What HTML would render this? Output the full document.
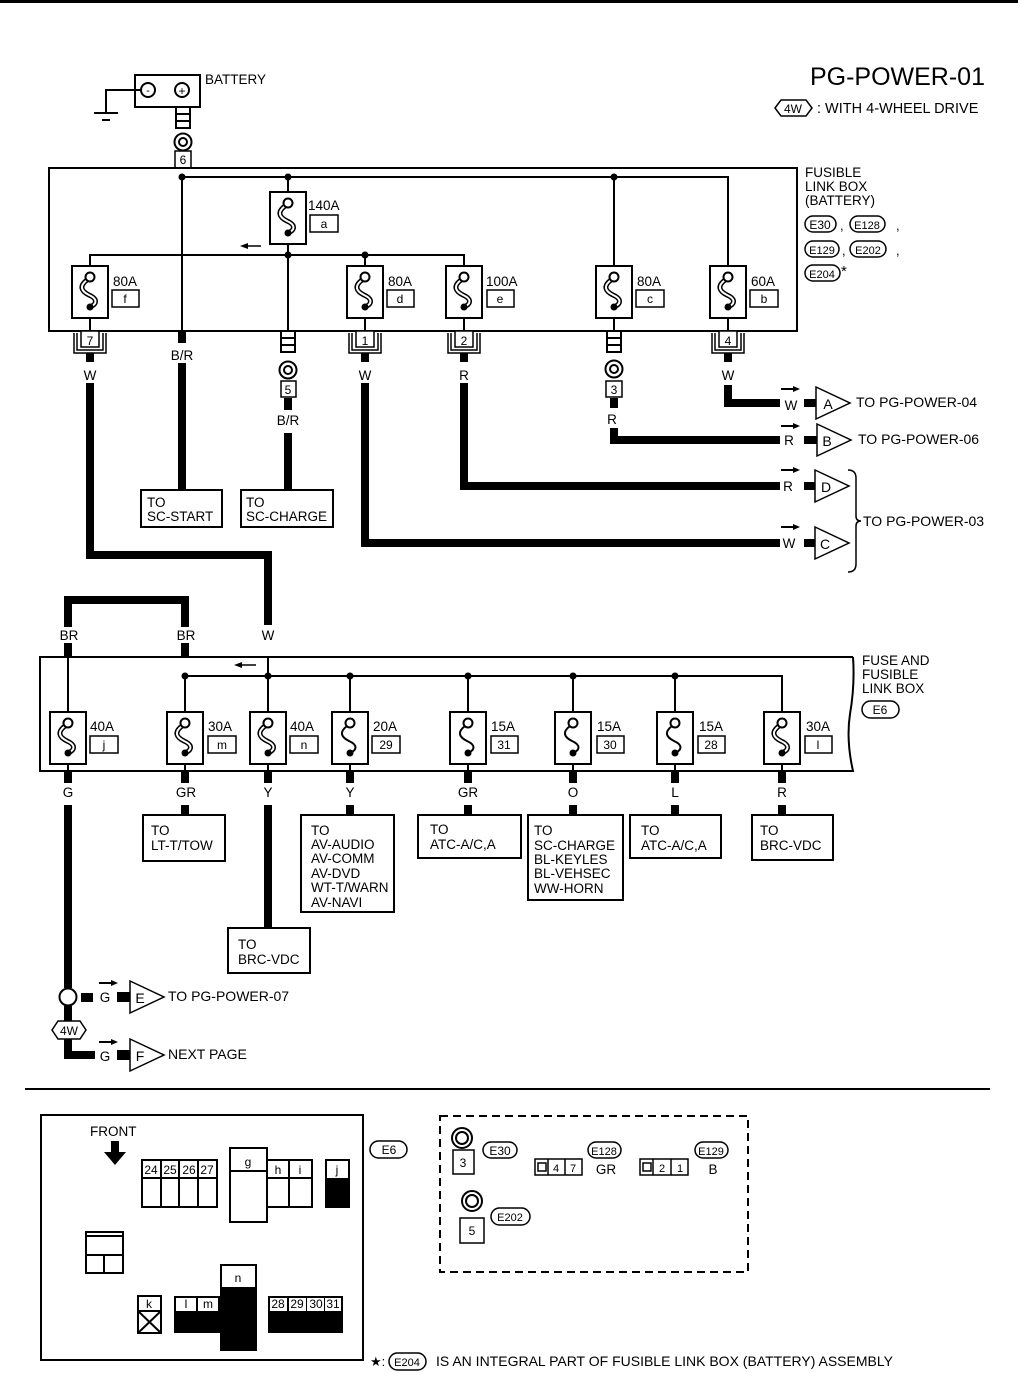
<!DOCTYPE html>
<html><head><meta charset="utf-8"><style>
html,body{margin:0;padding:0;background:#fff}
svg{display:block}
text{font-family:"Liberation Sans",sans-serif;fill:#000}
</style></head><body>
<svg width="1018" height="1373" viewBox="0 0 1018 1373" xmlns="http://www.w3.org/2000/svg">
<defs>
<g id="fz">
<rect x="-18" y="0" width="36" height="52" fill="#fff" stroke="#000" stroke-width="2"/>
<path d="M -3 14 C -11 20 -9 25 -1 29 C 8 33 7 38 0 41" fill="none" stroke="#000" stroke-width="5"/>
<path d="M -3 14 C -11 20 -9 25 -1 29 C 8 33 7 38 0 41" fill="none" stroke="#fff" stroke-width="2"/>
<circle cx="0" cy="11" r="4.5" fill="#fff" stroke="#000" stroke-width="2"/>
<circle cx="0" cy="41" r="3.5" fill="#000"/>
</g>
<g id="fs">
<rect x="-18" y="0" width="36" height="52" fill="#fff" stroke="#000" stroke-width="2"/>
<path d="M -3 14 C -11 20 -9 25 -1 29 C 8 33 7 38 0 41" fill="none" stroke="#000" stroke-width="2"/>
<circle cx="0" cy="11" r="4.5" fill="#fff" stroke="#000" stroke-width="2"/>
<circle cx="0" cy="41" r="3.5" fill="#000"/>
</g>
<g id="br">
<path d="M -16 2 V 22 H 16 V 2 M -13 2 V 19 H 13 V 2" fill="none" stroke="#000" stroke-width="1.5"/>
<rect x="-9" y="0" width="18" height="16" fill="#fff" stroke="#000" stroke-width="1.5"/>
</g>
<g id="c3">
<rect x="-7" y="0" width="14" height="21" fill="#fff" stroke="#000" stroke-width="2"/>
<line x1="-7" y1="7" x2="7" y2="7" stroke="#000" stroke-width="2"/>
<line x1="-7" y1="14" x2="7" y2="14" stroke="#000" stroke-width="2"/>
</g>
<g id="ring">
<circle cx="0" cy="0" r="8.5" fill="#fff" stroke="#000" stroke-width="2"/>
<circle cx="0" cy="0" r="4" fill="none" stroke="#000" stroke-width="2"/>
</g>
<g id="tri"><path d="M 0 -16 L 34 0 L 0 16 Z" fill="#fff" stroke="#000" stroke-width="1.5"/></g>
<g id="arr"><line x1="0" y1="0" x2="14" y2="0" stroke="#000" stroke-width="2"/><path d="M 12 -3 L 19 0 L 12 3 Z"/></g>
</defs>
<rect x="0" y="0" width="1018" height="3" fill="#000"/>

<!-- title -->
<text x="985" y="85" font-size="25" text-anchor="end">PG-POWER-01</text>
<path d="M 775 108 L 781 100 H 806 L 812 108 L 806 116 H 781 Z" fill="#fff" stroke="#000" stroke-width="1.5"/>
<text x="793" y="113" font-size="12" text-anchor="middle">4W</text>
<text x="817" y="113" font-size="14.5">: WITH 4-WHEEL DRIVE</text>

<!-- battery -->
<rect x="135" y="75" width="65" height="32" fill="none" stroke="#000" stroke-width="2"/>
<circle cx="148" cy="90" r="7" fill="none" stroke="#000" stroke-width="2"/>
<text x="148" y="94" font-size="11" text-anchor="middle">-</text>
<circle cx="182" cy="90" r="7" fill="none" stroke="#000" stroke-width="2"/>
<text x="182" y="95" font-size="12" text-anchor="middle">+</text>
<path d="M 141 90 H 106 V 112" fill="none" stroke="#000" stroke-width="2"/>
<line x1="94" y1="113" x2="118" y2="113" stroke="#000" stroke-width="2"/>
<line x1="102" y1="120" x2="110" y2="120" stroke="#000" stroke-width="2"/>
<text x="205" y="84" font-size="13.5">BATTERY</text>
<use href="#c3" x="183" y="107"/>
<use href="#ring" x="183" y="142"/>
<rect x="175" y="151" width="16" height="17" fill="#fff" stroke="#000" stroke-width="1.5"/>
<text x="183" y="164" font-size="12" text-anchor="middle">6</text>

<!-- fusible link box -->
<rect x="49" y="168" width="748" height="163" fill="none" stroke="#000" stroke-width="2"/>
<path d="M 182 177 H 728 V 266" fill="none" stroke="#000" stroke-width="2"/>
<line x1="182" y1="177" x2="182" y2="331" stroke="#000" stroke-width="2"/>
<line x1="288" y1="177" x2="288" y2="331" stroke="#000" stroke-width="2"/>
<line x1="614" y1="177" x2="614" y2="331" stroke="#000" stroke-width="2"/>
<path d="M 90 266 V 255 H 464 V 266" fill="none" stroke="#000" stroke-width="2"/>
<line x1="365" y1="255" x2="365" y2="266" stroke="#000" stroke-width="2"/>
<line x1="90" y1="318" x2="90" y2="331" stroke="#000" stroke-width="2"/>
<line x1="365" y1="318" x2="365" y2="331" stroke="#000" stroke-width="2"/>
<line x1="464" y1="318" x2="464" y2="331" stroke="#000" stroke-width="2"/>
<line x1="728" y1="318" x2="728" y2="331" stroke="#000" stroke-width="2"/>
<circle cx="182" cy="177" r="3.5"/><circle cx="288" cy="177" r="3.5"/><circle cx="614" cy="177" r="3.5"/>
<circle cx="288" cy="255" r="3.5"/><circle cx="365" cy="255" r="3.5"/>
<line x1="245" y1="246" x2="261" y2="246" stroke="#000" stroke-width="1.5"/><path d="M 240 246 L 248 243 L 248 249 Z"/>
<use href="#fz" x="288" y="192"/>
<text x="308" y="210" font-size="13.5">140A</text>
<rect x="310" y="215" width="28" height="17" fill="none" stroke="#000" stroke-width="1.5"/><text x="324" y="228" font-size="12" text-anchor="middle">a</text>
<use href="#fz" x="90" y="266"/>
<text x="113" y="286" font-size="13.5">80A</text>
<rect x="112" y="290" width="27" height="17" fill="none" stroke="#000" stroke-width="1.5"/><text x="125" y="303" font-size="12" text-anchor="middle">f</text>
<use href="#fz" x="365" y="266"/>
<text x="388" y="286" font-size="13.5">80A</text>
<rect x="387" y="290" width="27" height="17" fill="none" stroke="#000" stroke-width="1.5"/><text x="400" y="303" font-size="12" text-anchor="middle">d</text>
<use href="#fz" x="464" y="266"/>
<text x="486" y="286" font-size="13.5">100A</text>
<rect x="487" y="290" width="27" height="17" fill="none" stroke="#000" stroke-width="1.5"/><text x="500" y="303" font-size="12" text-anchor="middle">e</text>
<use href="#fz" x="614" y="266"/>
<text x="637" y="286" font-size="13.5">80A</text>
<rect x="636" y="290" width="28" height="17" fill="none" stroke="#000" stroke-width="1.5"/><text x="650" y="303" font-size="12" text-anchor="middle">c</text>
<use href="#fz" x="728" y="266"/>
<text x="751" y="286" font-size="13.5">60A</text>
<rect x="750" y="290" width="28" height="17" fill="none" stroke="#000" stroke-width="1.5"/><text x="764" y="303" font-size="12" text-anchor="middle">b</text>

<text x="805" y="177" font-size="13.5">FUSIBLE</text>
<text x="805" y="191" font-size="13.5">LINK BOX</text>
<text x="805" y="205" font-size="13.5">(BATTERY)</text>
<rect x="805" y="216" width="31" height="16" rx="8" fill="none" stroke="#000" stroke-width="1.5"/><text x="820" y="229" font-size="12" text-anchor="middle">E30</text>
<text x="840" y="230" font-size="13">,</text>
<rect x="850" y="216" width="35" height="16" rx="8" fill="none" stroke="#000" stroke-width="1.5"/><text x="867" y="229" font-size="11" text-anchor="middle">E128</text>
<text x="896" y="230" font-size="13">,</text>
<rect x="805" y="241" width="34" height="16" rx="8" fill="none" stroke="#000" stroke-width="1.5"/><text x="822" y="254" font-size="11" text-anchor="middle">E129</text>
<text x="842" y="255" font-size="13">,</text>
<rect x="850" y="241" width="36" height="16" rx="8" fill="none" stroke="#000" stroke-width="1.5"/><text x="868" y="254" font-size="11" text-anchor="middle">E202</text>
<text x="896" y="255" font-size="13">,</text>
<rect x="805" y="265" width="35" height="16" rx="8" fill="none" stroke="#000" stroke-width="1.5"/><text x="822" y="278" font-size="11" text-anchor="middle">E204</text>
<text x="841" y="276" font-size="15">*</text>

<!-- bottom connectors of upper box -->
<use href="#br" x="90" y="331"/><text x="90" y="345" font-size="12" text-anchor="middle">7</text>
<use href="#br" x="365" y="331"/><text x="365" y="345" font-size="12" text-anchor="middle">1</text>
<use href="#br" x="464" y="331"/><text x="464" y="345" font-size="12" text-anchor="middle">2</text>
<use href="#br" x="728" y="331"/><text x="728" y="345" font-size="12" text-anchor="middle">4</text>
<rect x="178" y="331" width="8" height="12" fill="#000"/>
<use href="#c3" x="288" y="331"/>
<use href="#c3" x="614" y="331"/>

<g stroke="#000" stroke-width="8" fill="none">
<line x1="90" y1="353" x2="90" y2="362"/>
<line x1="365" y1="353" x2="365" y2="362"/>
<line x1="464" y1="353" x2="464" y2="362"/>
<line x1="728" y1="353" x2="728" y2="362"/>
<path d="M 90 383 V 555 H 268 V 625"/>
<line x1="182" y1="363" x2="182" y2="490"/>
<line x1="288" y1="398" x2="288" y2="410"/>
<line x1="288" y1="433" x2="288" y2="490"/>
<path d="M 365 383 V 543 H 780"/>
<path d="M 464 383 V 486 H 780"/>
<line x1="614" y1="398" x2="614" y2="408"/>
<path d="M 614 428 V 440 H 780"/>
<path d="M 728 385 V 403 H 782"/>
<line x1="803" y1="403" x2="816" y2="403"/>
<line x1="803" y1="440" x2="817" y2="440"/>
<line x1="803" y1="486" x2="815" y2="486"/>
<line x1="803" y1="543" x2="815" y2="543"/>
</g>
<rect x="780" y="393" width="24" height="18" fill="#fff"/>
<rect x="780" y="430" width="24" height="18" fill="#fff"/>
<rect x="780" y="476" width="24" height="18" fill="#fff"/>
<rect x="780" y="533" width="24" height="18" fill="#fff"/>
<text x="90" y="380" font-size="13.5" text-anchor="middle">W</text>
<text x="182" y="360" font-size="13.5" text-anchor="middle">B/R</text>
<use href="#ring" x="288" y="370"/>
<rect x="281" y="381" width="15" height="16" fill="#fff" stroke="#000" stroke-width="1.5"/><text x="288" y="394" font-size="12" text-anchor="middle">5</text>
<text x="288" y="425" font-size="13.5" text-anchor="middle">B/R</text>
<text x="365" y="380" font-size="13.5" text-anchor="middle">W</text>
<text x="464" y="380" font-size="13.5" text-anchor="middle">R</text>
<use href="#ring" x="614" y="369"/>
<rect x="606" y="381" width="16" height="16" fill="#fff" stroke="#000" stroke-width="1.5"/><text x="614" y="394" font-size="12" text-anchor="middle">3</text>
<text x="612" y="424" font-size="13.5" text-anchor="middle">R</text>
<text x="728" y="380" font-size="13.5" text-anchor="middle">W</text>

<rect x="141" y="490" width="81" height="37" fill="none" stroke="#000" stroke-width="2"/>
<text x="147" y="507" font-size="13.5">TO</text><text x="147" y="521" font-size="13.5">SC-START</text>
<rect x="241" y="490" width="92" height="37" fill="none" stroke="#000" stroke-width="2"/>
<text x="246" y="507" font-size="13.5">TO</text><text x="246" y="521" font-size="13.5">SC-CHARGE</text>

<text x="791" y="410" font-size="13.5" text-anchor="middle">W</text>
<text x="789" y="445" font-size="13.5" text-anchor="middle">R</text>
<text x="788" y="491" font-size="13.5" text-anchor="middle">R</text>
<text x="789" y="548" font-size="13.5" text-anchor="middle">W</text>
<use href="#arr" x="781" y="389"/><use href="#arr" x="781" y="426"/><use href="#arr" x="781" y="470"/><use href="#arr" x="781" y="527"/>
<use href="#tri" x="816" y="403"/><text x="828" y="409" font-size="14" text-anchor="middle">A</text>
<use href="#tri" x="817" y="440"/><text x="827" y="446" font-size="14" text-anchor="middle">B</text>
<use href="#tri" x="815" y="486"/><text x="826" y="492" font-size="14" text-anchor="middle">D</text>
<use href="#tri" x="815" y="543"/><text x="825" y="549" font-size="14" text-anchor="middle">C</text>
<text x="856" y="407" font-size="14">TO PG-POWER-04</text>
<text x="858" y="444" font-size="14">TO PG-POWER-06</text>
<path d="M 848 470 Q 856 470 856 478 V 516 Q 856 521 861 521 Q 856 521 856 526 V 564 Q 856 572 848 572" fill="none" stroke="#000" stroke-width="1.5"/>
<text x="863" y="526" font-size="14">TO PG-POWER-03</text>

<!-- second box -->
<g stroke="#000" stroke-width="8" fill="none">
<path d="M 68 657 V 600 H 185 V 657"/>
</g>
<rect x="55" y="627" width="28" height="16" fill="#fff"/>
<rect x="172" y="627" width="28" height="16" fill="#fff"/>
<rect x="255" y="627" width="28" height="16" fill="#fff"/>
<text x="69" y="640" font-size="13.5" text-anchor="middle">BR</text>
<text x="186" y="640" font-size="13.5" text-anchor="middle">BR</text>
<text x="268" y="640" font-size="13.5" text-anchor="middle">W</text>
<path d="M 853 657 H 40 V 771 H 853 Q 846 740 850 714 Q 855 685 853 657" fill="none" stroke="#000" stroke-width="2"/>
<path d="M 185 712 V 676 H 782 V 712" fill="none" stroke="#000" stroke-width="2"/>
<line x1="68" y1="657" x2="68" y2="712" stroke="#000" stroke-width="2"/>
<line x1="268" y1="657" x2="268" y2="712" stroke="#000" stroke-width="2"/>
<g stroke="#000" stroke-width="2">
<line x1="350" y1="676" x2="350" y2="712"/><line x1="468" y1="676" x2="468" y2="712"/><line x1="573" y1="676" x2="573" y2="712"/><line x1="675" y1="676" x2="675" y2="712"/>
</g>
<g><circle cx="185" cy="676" r="3.5"/><circle cx="268" cy="676" r="3.5"/><circle cx="350" cy="676" r="3.5"/><circle cx="468" cy="676" r="3.5"/><circle cx="573" cy="676" r="3.5"/><circle cx="675" cy="676" r="3.5"/></g>
<line x1="240" y1="665" x2="256" y2="665" stroke="#000" stroke-width="1.5"/><path d="M 234 665 L 242 662 L 242 668 Z"/>
<use href="#fz" x="68" y="712"/><text x="90" y="731" font-size="13.5">40A</text>
<rect x="90" y="736" width="28" height="17" fill="none" stroke="#000" stroke-width="1.5"/><text x="104" y="749" font-size="12" text-anchor="middle">j</text>
<use href="#fz" x="185" y="712"/><text x="208" y="731" font-size="13.5">30A</text>
<rect x="208" y="736" width="28" height="17" fill="none" stroke="#000" stroke-width="1.5"/><text x="222" y="749" font-size="12" text-anchor="middle">m</text>
<use href="#fz" x="268" y="712"/><text x="290" y="731" font-size="13.5">40A</text>
<rect x="290" y="736" width="28" height="17" fill="none" stroke="#000" stroke-width="1.5"/><text x="304" y="749" font-size="12" text-anchor="middle">n</text>
<use href="#fs" x="350" y="712"/><text x="373" y="731" font-size="13.5">20A</text>
<rect x="372" y="736" width="28" height="17" fill="none" stroke="#000" stroke-width="1.5"/><text x="386" y="749" font-size="12" text-anchor="middle">29</text>
<use href="#fs" x="468" y="712"/><text x="491" y="731" font-size="13.5">15A</text>
<rect x="491" y="736" width="27" height="17" fill="none" stroke="#000" stroke-width="1.5"/><text x="504" y="749" font-size="12" text-anchor="middle">31</text>
<use href="#fs" x="573" y="712"/><text x="597" y="731" font-size="13.5">15A</text>
<rect x="597" y="736" width="27" height="17" fill="none" stroke="#000" stroke-width="1.5"/><text x="610" y="749" font-size="12" text-anchor="middle">30</text>
<use href="#fs" x="675" y="712"/><text x="699" y="731" font-size="13.5">15A</text>
<rect x="698" y="736" width="27" height="17" fill="none" stroke="#000" stroke-width="1.5"/><text x="711" y="749" font-size="12" text-anchor="middle">28</text>
<use href="#fz" x="782" y="712"/><text x="806" y="731" font-size="13.5">30A</text>
<rect x="805" y="736" width="27" height="17" fill="none" stroke="#000" stroke-width="1.5"/><text x="818" y="749" font-size="12" text-anchor="middle">l</text>
<g stroke="#000" stroke-width="2"><line x1="68" y1="764" x2="68" y2="771"/><line x1="185" y1="764" x2="185" y2="771"/><line x1="268" y1="764" x2="268" y2="771"/><line x1="350" y1="764" x2="350" y2="771"/><line x1="468" y1="764" x2="468" y2="771"/><line x1="573" y1="764" x2="573" y2="771"/><line x1="675" y1="764" x2="675" y2="771"/><line x1="782" y1="764" x2="782" y2="771"/></g>
<text x="862" y="665" font-size="13.5">FUSE AND</text>
<text x="862" y="679" font-size="13.5">FUSIBLE</text>
<text x="862" y="693" font-size="13.5">LINK BOX</text>
<rect x="862" y="701" width="37" height="17" rx="8.5" fill="none" stroke="#000" stroke-width="1.5"/><text x="880" y="714" font-size="12" text-anchor="middle">E6</text>

<g stroke="#000" stroke-width="8" fill="none">
<line x1="68" y1="771" x2="68" y2="783"/><line x1="185" y1="771" x2="185" y2="783"/><line x1="268" y1="771" x2="268" y2="783"/><line x1="350" y1="771" x2="350" y2="783"/><line x1="468" y1="771" x2="468" y2="783"/><line x1="573" y1="771" x2="573" y2="783"/><line x1="675" y1="771" x2="675" y2="783"/><line x1="782" y1="771" x2="782" y2="783"/>
<line x1="68" y1="805" x2="68" y2="988"/>
<line x1="185" y1="805" x2="185" y2="815"/>
<line x1="268" y1="805" x2="268" y2="928"/>
<line x1="350" y1="805" x2="350" y2="815"/>
<line x1="468" y1="805" x2="468" y2="815"/>
<line x1="573" y1="805" x2="573" y2="815"/>
<line x1="675" y1="805" x2="675" y2="815"/>
<line x1="782" y1="805" x2="782" y2="815"/>
</g>
<g font-size="13.5" text-anchor="middle">
<text x="68" y="797">G</text><text x="186" y="797">GR</text><text x="268" y="797">Y</text><text x="350" y="797">Y</text><text x="468" y="797">GR</text><text x="573" y="797">O</text><text x="675" y="797">L</text><text x="782" y="797">R</text>
</g>
<g fill="none" stroke="#000" stroke-width="2">
<rect x="143" y="815" width="82" height="46"/>
<rect x="228" y="928" width="82" height="45"/>
<rect x="301" y="815" width="93" height="97"/>
<rect x="418" y="815" width="103" height="43"/>
<rect x="528" y="815" width="95" height="85"/>
<rect x="630" y="815" width="91" height="43"/>
<rect x="752" y="815" width="81" height="45"/>
</g>
<g font-size="13.5">
<text x="151" y="835">TO</text><text x="151" y="850">LT-T/TOW</text>
<text x="238" y="949">TO</text><text x="238" y="964">BRC-VDC</text>
<text x="311" y="835">TO</text><text x="311" y="849">AV-AUDIO</text><text x="311" y="863">AV-COMM</text><text x="311" y="878">AV-DVD</text><text x="311" y="892">WT-T/WARN</text><text x="311" y="907">AV-NAVI</text>
<text x="430" y="834">TO</text><text x="430" y="849">ATC-A/C,A</text>
<text x="534" y="835">TO</text><text x="534" y="850">SC-CHARGE</text><text x="534" y="864">BL-KEYLES</text><text x="534" y="878">BL-VEHSEC</text><text x="534" y="893">WW-HORN</text>
<text x="641" y="835">TO</text><text x="641" y="850">ATC-A/C,A</text>
<text x="760" y="835">TO</text><text x="760" y="850">BRC-VDC</text>
</g>

<!-- E / F -->
<circle cx="68" cy="997" r="8.5" fill="#fff" stroke="#000" stroke-width="2"/>
<rect x="81" y="993" width="12" height="9" fill="#000"/>
<text x="105" y="1002" font-size="13.5" text-anchor="middle">G</text>
<rect x="117" y="992" width="14" height="10" fill="#000"/>
<use href="#arr" x="99" y="983"/>
<use href="#tri" x="130" y="997"/><text x="140" y="1003" font-size="14" text-anchor="middle">E</text>
<text x="168" y="1001" font-size="14">TO PG-POWER-07</text>
<line x1="68" y1="1006" x2="68" y2="1022" stroke="#000" stroke-width="8"/>
<path d="M 52 1030 L 58 1021 H 80 L 86 1030 L 80 1039 H 58 Z" fill="#fff" stroke="#000" stroke-width="1.5"/>
<text x="69" y="1035" font-size="12" text-anchor="middle">4W</text>
<path d="M 68 1039 V 1055 H 95" fill="none" stroke="#000" stroke-width="8"/>
<text x="105" y="1061" font-size="13.5" text-anchor="middle">G</text>
<rect x="117" y="1050" width="14" height="10" fill="#000"/>
<use href="#arr" x="99" y="1042"/>
<use href="#tri" x="130" y="1055"/><text x="140" y="1061" font-size="14" text-anchor="middle">F</text>
<text x="168" y="1059" font-size="14">NEXT PAGE</text>

<line x1="25" y1="1089" x2="990" y2="1089" stroke="#000" stroke-width="2"/>

<!-- E6 layout -->
<rect x="41" y="1115" width="322" height="245" fill="none" stroke="#000" stroke-width="2"/>
<text x="90" y="1136" font-size="13.5">FRONT</text>
<path d="M 111 1141 H 119 V 1152 H 126 L 115 1165 L 104 1152 H 111 Z"/>
<g fill="none" stroke="#000" stroke-width="2">
<rect x="142" y="1160" width="75" height="47"/><line x1="142" y1="1178" x2="217" y2="1178"/>
<line x1="161" y1="1160" x2="161" y2="1207"/><line x1="179" y1="1160" x2="179" y2="1207"/><line x1="198" y1="1160" x2="198" y2="1207"/>
<rect x="230" y="1148" width="37" height="74"/><line x1="230" y1="1171" x2="267" y2="1171"/>
<rect x="267" y="1160" width="45" height="47"/><line x1="267" y1="1178" x2="312" y2="1178"/><line x1="289" y1="1160" x2="289" y2="1207"/>
<rect x="326" y="1160" width="23" height="47"/>
<rect x="86" y="1232" width="37" height="41"/><line x1="86" y1="1236" x2="123" y2="1236"/><line x1="86" y1="1255" x2="123" y2="1255"/><line x1="104" y1="1255" x2="104" y2="1273"/>
<rect x="138" y="1296" width="23" height="37"/><line x1="138" y1="1311" x2="161" y2="1311"/><path d="M 138 1311 L 161 1333 M 161 1311 L 138 1333"/>
</g>
<rect x="326" y="1178" width="23" height="29" fill="#000"/>
<path d="M 174 1296 H 220 V 1264 H 257 V 1351 H 220 V 1333 H 174 Z" fill="#000"/>
<rect x="176" y="1298" width="20" height="13" fill="#fff"/><rect x="198" y="1298" width="20" height="13" fill="#fff"/>
<rect x="222" y="1266" width="33" height="21" fill="#fff"/>
<rect x="268" y="1296" width="75" height="37" fill="#000"/>
<rect x="270" y="1298" width="17" height="13" fill="#fff"/><rect x="289" y="1298" width="17" height="13" fill="#fff"/><rect x="307" y="1298" width="17" height="13" fill="#fff"/><rect x="325" y="1298" width="16" height="13" fill="#fff"/>
<g font-size="12" text-anchor="middle">
<text x="151" y="1174">24</text><text x="170" y="1174">25</text><text x="189" y="1174">26</text><text x="207" y="1174">27</text>
<text x="248" y="1166">g</text><text x="278" y="1174">h</text><text x="300" y="1174">i</text><text x="337" y="1174">j</text>
<text x="149" y="1308">k</text><text x="186" y="1308">l</text><text x="208" y="1308">m</text><text x="238" y="1282">n</text>
<text x="278" y="1308">28</text><text x="297" y="1308">29</text><text x="316" y="1308">30</text><text x="333" y="1308">31</text>
</g>
<rect x="370" y="1141" width="37" height="17" rx="8.5" fill="none" stroke="#000" stroke-width="1.5"/><text x="389" y="1154" font-size="12" text-anchor="middle">E6</text>

<!-- dashed box -->
<rect x="440" y="1116" width="308" height="156" fill="none" stroke="#000" stroke-width="2" stroke-dasharray="8,5"/>
<circle cx="462" cy="1138" r="10" fill="none" stroke="#000" stroke-width="2"/><circle cx="462" cy="1138" r="6" fill="none" stroke="#000" stroke-width="2"/>
<rect x="453" y="1150" width="21" height="24" fill="none" stroke="#000" stroke-width="1.5"/><text x="463" y="1167" font-size="12" text-anchor="middle">3</text>
<rect x="483" y="1142" width="34" height="16" rx="8" fill="none" stroke="#000" stroke-width="1.5"/><text x="500" y="1155" font-size="12" text-anchor="middle">E30</text>
<rect x="535" y="1159" width="47" height="16" fill="none" stroke="#000" stroke-width="1.5"/><rect x="538" y="1163" width="8" height="8" fill="none" stroke="#000" stroke-width="1.5"/>
<line x1="548" y1="1159" x2="548" y2="1175" stroke="#000" stroke-width="1.5"/><line x1="565" y1="1159" x2="565" y2="1175" stroke="#000" stroke-width="1.5"/>
<text x="556" y="1172" font-size="11" text-anchor="middle">4</text><text x="573" y="1172" font-size="11" text-anchor="middle">7</text>
<rect x="588" y="1142" width="33" height="16" rx="8" fill="none" stroke="#000" stroke-width="1.5"/><text x="604" y="1155" font-size="11" text-anchor="middle">E128</text>
<text x="606" y="1174" font-size="13.5" text-anchor="middle">GR</text>
<rect x="640" y="1159" width="48" height="16" fill="none" stroke="#000" stroke-width="1.5"/><rect x="643" y="1163" width="8" height="8" fill="none" stroke="#000" stroke-width="1.5"/>
<line x1="653" y1="1159" x2="653" y2="1175" stroke="#000" stroke-width="1.5"/><line x1="671" y1="1159" x2="671" y2="1175" stroke="#000" stroke-width="1.5"/>
<text x="662" y="1172" font-size="11" text-anchor="middle">2</text><text x="680" y="1172" font-size="11" text-anchor="middle">1</text>
<rect x="695" y="1142" width="33" height="16" rx="8" fill="none" stroke="#000" stroke-width="1.5"/><text x="711" y="1155" font-size="11" text-anchor="middle">E129</text>
<text x="713" y="1174" font-size="13.5" text-anchor="middle">B</text>
<circle cx="472" cy="1201" r="10" fill="none" stroke="#000" stroke-width="2"/><circle cx="472" cy="1201" r="6" fill="none" stroke="#000" stroke-width="2"/>
<rect x="460" y="1218" width="24" height="25" fill="none" stroke="#000" stroke-width="1.5"/><text x="472" y="1235" font-size="12" text-anchor="middle">5</text>
<rect x="491" y="1208" width="39" height="17" rx="8.5" fill="none" stroke="#000" stroke-width="1.5"/><text x="510" y="1221" font-size="11" text-anchor="middle">E202</text>

<text x="370" y="1366" font-size="13">★:</text>
<rect x="389" y="1353" width="37" height="17" rx="8.5" fill="none" stroke="#000" stroke-width="1.5"/><text x="407" y="1366" font-size="11" text-anchor="middle">E204</text>
<text x="436" y="1366" font-size="14">IS AN INTEGRAL PART OF FUSIBLE LINK BOX (BATTERY) ASSEMBLY</text>
</svg>
</body></html>
